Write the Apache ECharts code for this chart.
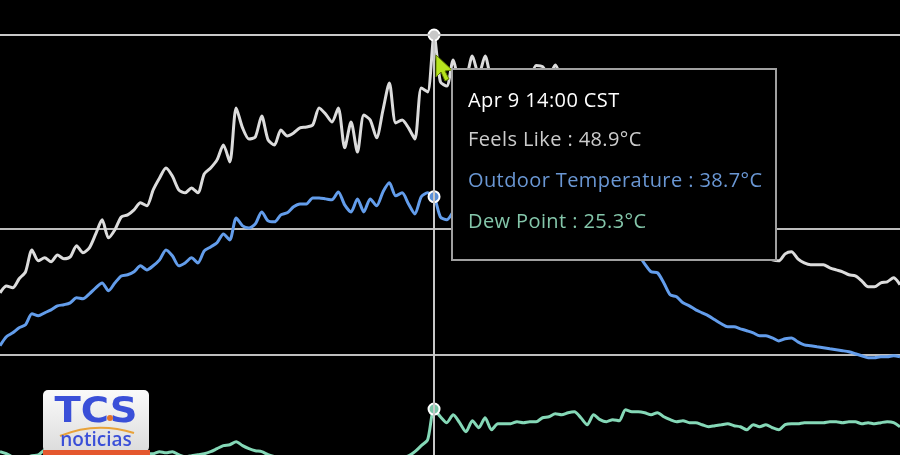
<!DOCTYPE html>
<html><head><meta charset="utf-8">
<script src="https://cdn.jsdelivr.net/npm/echarts@6/dist/echarts.min.js"></script>
<style>html,body{margin:0;padding:0;background:#000;}#c{width:900px;height:455px;}</style>
</head><body><div id="c"></div>
<script>
const times = ['08:20','08:25','08:30','08:35','08:40','08:45','08:50','08:55',
'09:00','09:05','09:10','09:15','09:20','09:25','09:30','09:35','09:40','09:45','09:50','09:55',
'10:00','10:05','10:10','10:15','10:20','10:25','10:30','10:35','10:40','10:45','10:50','10:55',
'11:00','11:05','11:10','11:15','11:20','11:25','11:30','11:35','11:40','11:45','11:50','11:55',
'12:00','12:05','12:10','12:15','12:20','12:25','12:30','12:35','12:40','12:45','12:50','12:55',
'13:00','13:05','13:10','13:15','13:20','13:25','13:30','13:35','13:40','13:45','13:50','13:55',
'14:00','14:05','14:10','14:15','14:20','14:25','14:30','14:35','14:40','14:45','14:50','14:55',
'15:00','15:05','15:10','15:15','15:20','15:25','15:30','15:35','15:40','15:45','15:50','15:55',
'16:00','16:05','16:10','16:15','16:20','16:25','16:30','16:35','16:40','16:45','16:50','16:55',
'17:00','17:05','17:10','17:15','17:20','17:25','17:30','17:35','17:40','17:45','17:50','17:55',
'18:00','18:05','18:10','18:15','18:20','18:25','18:30','18:35','18:40','18:45','18:50','18:55',
'19:00','19:05','19:10','19:15','19:20','19:25','19:30','19:35','19:40','19:45','19:50','19:55',
'20:00','20:05'];
const dateLabel = 'Apr 9';
const tzLabel = 'CST';
const hoveredTime = '14:00';
const seriesNames = ['Feels Like', 'Outdoor Temperature', 'Dew Point'];

const feelsLike = [32.63,33.07,32.95,33.52,33.96,35.34,34.65,34.84,34.59,35.02,
34.78,34.90,35.60,35.16,35.47,36.35,37.24,36.10,36.61,37.42,
37.55,37.87,38.31,38.12,39.13,39.88,40.51,40.00,39.13,38.94,
39.25,38.94,40.14,40.51,41.02,41.96,40.89,44.30,43.04,42.34,
42.47,43.79,42.28,41.96,42.91,42.53,42.72,43.04,43.10,43.23,
44.30,43.92,43.41,44.30,41.78,43.41,41.52,43.85,43.54,42.41,
44.17,45.87,43.35,43.54,43.04,42.34,45.56,45.31,48.90,45.94,
45.68,47.32,46.06,46.18,47.58,46.37,47.58,46.06,45.75,46.18,
45.56,45.94,45.43,46.06,46.98,46.90,46.30,47.00,46.10,45.56,
45.12,45.31,44.49,44.80,43.86,44.05,43.23,42.91,43.04,42.28,
41.65,40.70,39.76,39.25,38.50,37.74,37.24,36.86,36.61,36.29,
36.10,35.85,35.66,35.60,35.34,35.22,35.15,35.03,34.97,34.84,
34.90,34.71,34.65,35.09,35.22,34.78,34.52,34.40,34.40,34.40,
34.21,34.08,33.96,33.77,33.70,33.39,33.01,33.01,33.26,33.33,
33.58,33.14];

const outdoorTemp = [29.29,29.86,30.11,30.43,30.62,31.31,31.18,31.37,31.56,31.81,
31.88,32.00,32.32,32.26,32.57,32.95,33.26,32.76,33.26,33.70,
33.77,33.96,34.34,34.08,34.34,34.71,35.34,34.97,34.34,34.52,
34.84,34.52,35.28,35.53,35.79,36.35,35.97,37.36,36.86,36.73,
36.98,37.74,37.17,37.11,37.55,37.68,38.06,38.24,38.24,38.62,
38.62,38.56,38.50,39.00,38.18,37.74,38.56,37.74,38.56,38.12,
39.00,39.57,38.75,38.94,38.24,37.61,38.69,38.94,38.70,37.42,
37.24,37.74,38.18,37.55,37.99,38.50,37.74,38.12,37.55,37.87,
37.36,37.74,37.24,37.61,37.87,37.36,37.11,37.55,37.11,36.86,
37.11,36.61,36.73,36.35,36.48,36.10,36.23,35.85,35.60,35.34,
35.03,34.46,33.96,33.90,33.26,32.51,32.38,32.00,31.81,31.56,
31.37,31.18,30.93,30.68,30.49,30.49,30.36,30.24,30.11,29.92,
29.92,29.79,29.60,29.73,29.79,29.54,29.35,29.29,29.23,29.17,
29.10,29.04,28.98,28.91,28.79,28.66,28.54,28.54,28.60,28.60,
28.66,28.60];

const dewPoint = [22.61,22.48,22.29,22.30,22.25,22.35,22.40,22.70,22.60,22.80,
22.70,22.60,22.75,22.90,22.70,22.60,22.80,22.70,22.55,22.65,
22.80,22.70,22.60,22.50,22.48,22.61,22.54,22.61,22.42,22.29,
22.35,22.42,22.48,22.61,22.80,22.99,23.05,23.24,22.99,22.80,
22.67,22.61,22.42,22.30,22.20,22.10,22.25,22.00,21.90,22.10,
21.95,21.80,22.00,21.90,21.75,21.90,22.05,21.85,21.95,22.10,
22.00,22.15,22.30,22.25,22.35,22.61,22.99,23.36,25.30,24.81,
24.44,24.94,24.44,23.87,24.56,24.12,24.75,23.99,24.37,24.37,
24.37,24.50,24.44,24.50,24.50,24.75,24.81,25.00,24.94,25.07,
25.13,24.75,24.31,24.94,24.63,24.50,24.63,24.56,25.26,25.13,
25.13,25.07,24.94,25.07,24.81,24.63,24.50,24.56,24.44,24.44,
24.31,24.18,24.25,24.31,24.37,24.25,24.18,23.99,24.31,24.18,
24.31,24.12,23.99,24.31,24.37,24.37,24.44,24.44,24.44,24.44,
24.50,24.50,24.44,24.50,24.50,24.37,24.44,24.37,24.44,24.50,
24.44,24.18];

const gridLevels = [36.7, 28.7];
const yMin = 22.4;

const lineColors = ['#c8c8c8', '#5a8fd6', '#79c5a7'];
const textColors = ['#cccccc', '#6a97d4', '#84c6aa'];

const chart = echarts.init(document.getElementById('c'), null, {renderer: 'canvas'});

function lineSeries(idx, data, extra) {
  return Object.assign({
    name: seriesNames[idx],
    type: 'line',
    data: data,
    smooth: 0.25,
    showSymbol: false,
    symbol: 'circle',
    symbolSize: 11,
    clip: false,
    lineStyle: {color: lineColors[idx], width: 3},
    itemStyle: {color: lineColors[idx], borderColor: '#ffffff', borderWidth: 2},
    emphasis: {scale: false, lineStyle: {width: 3},
      itemStyle: {color: lineColors[idx], borderColor: '#ffffff', borderWidth: 2}},
    z: 3
  }, extra || {});
}

const option = {
  backgroundColor: '#000000',
  animation: false,
  grid: {left: 0, right: 0, top: 35, bottom: 0},
  xAxis: {
    type: 'category', data: times, boundaryGap: false,
    axisLine: {show: false}, axisTick: {show: false}, axisLabel: {show: false},
    splitLine: {show: false}
  },
  yAxis: {
    type: 'value', min: yMin, max: 'dataMax',
    axisLine: {show: false}, axisTick: {show: false}, axisLabel: {show: false},
    splitLine: {show: false}
  },
  tooltip: {
    trigger: 'axis',
    triggerOn: 'none',
    alwaysShowContent: true,
    transitionDuration: 0,
    position: [451, 68],
    backgroundColor: '#000000',
    borderColor: '#a0a0a0',
    borderWidth: 2,
    borderRadius: 0,
    padding: [12, 16, 18, 15],
    shadowBlur: 0,
    shadowColor: 'transparent',
    extraCssText: 'box-shadow:none;border-radius:0;width:291px;letter-spacing:0.4px;',
    textStyle: {fontFamily: 'Open Sans', fontSize: 20, color: '#ffffff'},
    axisPointer: {
      type: 'cross',
      snap: true,
      lineStyle: {color: '#c8c8c8', width: 2, type: 'solid'},
      crossStyle: {color: '#c8c8c8', width: 2, type: 'solid'},
      label: {show: false}
    },
    formatter: function (params) {
      let s = '<div style="line-height:36px;color:#ffffff;">' + dateLabel + ' ' + params[0].axisValue + ' ' + tzLabel + '</div>';
      params.forEach(function (p) {
        s += '<div style="line-height:41px;color:' + textColors[p.seriesIndex] + ';">' +
          p.seriesName + ' : ' + Number(p.value).toFixed(1) + '°C</div>';
      });
      return s;
    }
  },
  series: [
    lineSeries(0, feelsLike, {
      markLine: {
        silent: true, symbol: ['none', 'none'], z: 1,
        label: {show: false},
        lineStyle: {color: '#bdbdbd', width: 2, type: 'solid'},
        emphasis: {disabled: true},
        data: gridLevels.map(function (v) { return {yAxis: v}; })
      }
    }),
    lineSeries(1, outdoorTemp),
    lineSeries(2, dewPoint)
  ],
  graphic: {
    elements: [
      {type: 'rect', z: 100, zlevel: 1, shape: {x: 43, y: 390, width: 106, height: 62, r: 5},
        style: {fill: new echarts.graphic.LinearGradient(0, 0, 0, 1, [{offset: 0, color: '#fafafa'}, {offset: 1, color: '#dcdcdc'}])}},
      {type: 'rect', z: 101, zlevel: 1, shape: {x: 43, y: 450, width: 107, height: 6}, style: {fill: '#e4572e'}},
      {type: 'text', z: 102, zlevel: 1, x: 96, y: 413, scaleX: 1.1, style: {text: 'TCS', x: 0, y: 0, fill: '#3a4fd8', font: 'bold 35px "DejaVu Sans"', textAlign: 'center', textVerticalAlign: 'middle'}},
      {type: 'bezierCurve', z: 102, zlevel: 1, shape: {x1: 60, y1: 436, x2: 134, y2: 433, cpx1: 96, cpy1: 421},
        style: {stroke: '#e8a23a', lineWidth: 2, fill: null}},
      {type: 'circle', z: 103, zlevel: 1, shape: {cx: 110, cy: 418, r: 3}, style: {fill: '#e3742b'}},
      {type: 'text', z: 102, zlevel: 1, style: {text: 'noticias', x: 96, y: 441, fill: '#3a4fd8', font: '600 19px "Open Sans"', textAlign: 'center', textVerticalAlign: 'middle'}},
      {type: 'polygon', z: 104, zlevel: 1,
        shape: {points: [[436, 55], [436, 77], [441, 72], [445, 81], [449, 79], [445, 71], [452, 70]]},
        style: {fill: '#b6e41e', stroke: '#5f7d00', lineWidth: 1}}
    ]
  }
};

chart.setOption(option);
chart.dispatchAction({type: 'showTip', seriesIndex: 0, dataIndex: times.indexOf(hoveredTime)});
</script>
</body></html>
